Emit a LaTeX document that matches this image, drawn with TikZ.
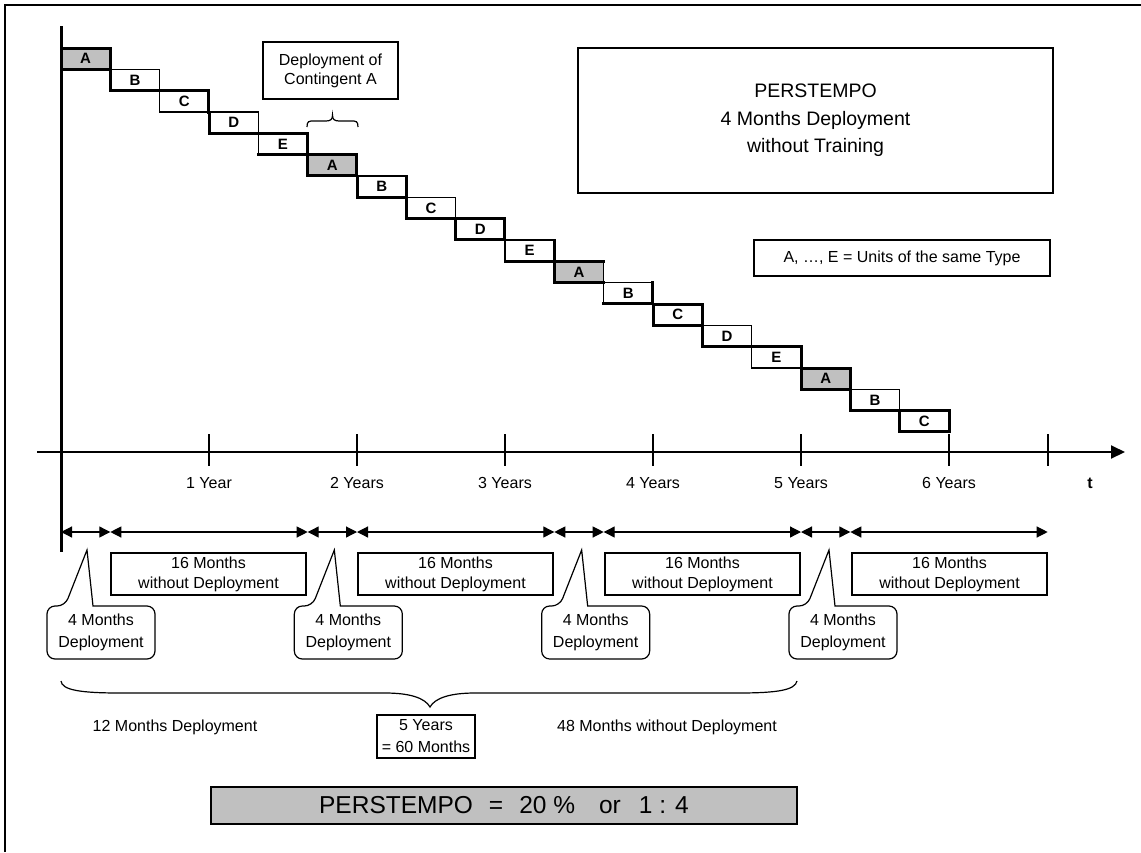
\documentclass[tikz,border=0pt]{standalone}
\usepackage{fontspec}
\setmainfont{Liberation Sans}
\usetikzlibrary{arrows.meta,calc}
\definecolor{boxgray}{RGB}{192,192,192}
\begin{document}
\begin{tikzpicture}[x=1pt,y=-1pt,
  every node/.style={font=\fontsize{16}{20}\selectfont, inner sep=0pt, outer sep=0pt},
  thinln/.style={line width=1.2pt},
  thk/.style={line width=3pt, line cap=rect},
  stepbox/.style={draw, line width=1.2pt, minimum width=49.33pt, minimum height=21.33pt, anchor=north west, font=\fontsize{15}{15}\selectfont\bfseries},
  txtbox/.style={draw, line width=1.2pt, align=center},
  bubble/.style={align=center, minimum width=108pt, minimum height=53pt, font=\fontsize{16}{22}\selectfont},
  dimarrow/.style={line width=1.2pt, {Triangle[length=11pt,width=11pt]}-{Triangle[length=11pt,width=11pt]}},
  ticklab/.style={font=\fontsize{16}{20}\selectfont},
]
\useasboundingbox (0,0) rectangle (1141,852);
% frame
\draw[line width=1.6pt] (5,852) -- (5,5) -- (1141,5);

% staircase boxes
\foreach \k/\lab/\fc in {0/A/boxgray,1/B/white,2/C/white,3/D/white,4/E/white,
  5/A/boxgray,6/B/white,7/C/white,8/D/white,9/E/white,
  10/A/boxgray,11/B/white,12/C/white,13/D/white,14/E/white,
  15/A/boxgray,16/B/white,17/C/white}{
  \node[stepbox, fill=\fc] (b\k) at ({61+49.333*\k},{48+21.333*\k}) {\lab};
}
% thick edges of the staircase
\foreach \k/\kt/\kl/\kr/\kb in {0/1/0/1/1,1/0/1/0/1,2/1/0/1/0,3/0/1/0/1,4/1/0/1/1,
  5/1/1/1/1,6/0/1/1/1,7/0/1/0/1,8/1/1/1/1,9/0/0/1/1,
  10/1/1/0/1,11/0/0/1/1,12/1/1/1/1,13/0/1/0/1,14/1/0/1/0,
  15/1/1/1/1,16/0/1/0/1,17/1/1/1/1}{
  \ifnum\kt=1 \draw[thk] (b\k.north west) -- (b\k.north east); \fi
  \ifnum\kl=1 \draw[thk] (b\k.north west) -- (b\k.south west); \fi
  \ifnum\kr=1 \draw[thk] (b\k.north east) -- (b\k.south east); \fi
  \ifnum\kb=1 \draw[thk] (b\k.south west) -- (b\k.south east); \fi
}

% vertical axis
\coordinate (vtop) at (61,26);
\coordinate (vbot) at (61,552);
\draw[line width=3pt] (vtop) -- (vbot);

% time axis
\coordinate (hstart) at (37,452);
\coordinate (hend) at (1125,452);
\draw[line width=2pt, -{Triangle[length=14pt,width=13pt]}] (hstart) -- (hend);
\foreach \i/\x in {1/209,2/357,3/505,4/653,5/801,6/949,7/1048}{
  \coordinate (tk\i a) at (\x,434);
  \coordinate (tk\i b) at (\x,466);
  \draw[line width=2.4pt] (tk\i a) -- (tk\i b);
}
\node[ticklab] (y1) at (209,483) {1 Year};
\node[ticklab] (y2) at (357,483) {2 Years};
\node[ticklab] (y3) at (505,483) {3 Years};
\node[ticklab] (y4) at (653,483) {4 Years};
\node[ticklab] (y5) at (801,483) {5 Years};
\node[ticklab] (y6) at (949,483) {6 Years};
\node[font=\fontsize{16}{20}\selectfont\bfseries] (tlab) at (1090,483) {t};

% dimension arrows
\foreach \i/\x in {0/61,1/110.3,2/307.7,3/357,4/554.3,5/603.7,6/801,7/850.3,8/1047.7}{
  \coordinate (m\i) at (\x,532);
}
\foreach \a/\b in {0/1,1/2,2/3,3/4,4/5,5/6,6/7,7/8}{
  \draw[dimarrow] (m\a) -- (m\b);
}

% 16 months boxes
\foreach \i/\cx in {1/208.5,2/455.5,3/702.5,4/949.5}{
  \node[txtbox, minimum width=195pt, minimum height=42pt] (sx\i) at (\cx,574) {16 Months\\without Deployment};
}

% callouts
\foreach \i in {0,1,2,3}{
  \node[bubble] (c\i) at ({101+247.33*\i},632.5) {4 Months\\Deployment};
  \coordinate (tip\i) at ({87+247.33*\i},550);
  \draw[thinln] ($(c\i.north west)+(46,0)$) [rounded corners=8pt] -- (c\i.north east) -- (c\i.south east) -- (c\i.south west) -- (c\i.north west) -- ($(c\i.north west)+(18,0)$) [sharp corners] -- (tip\i) -- cycle;
}

% contingent A
\node[txtbox, minimum width=135pt, minimum height=57pt, font=\fontsize{16}{19}\selectfont] (cont) at (330.5,70.5) {Deployment of\\Contingent A};
\coordinate (sbL) at (307,127);
\coordinate (sbR) at (358,127);
\coordinate (sbT) at (332.5,115);
\draw[thinln] (sbL) .. controls (307,121) and (309,121) .. (314,121) -- (326,121) .. controls (331,121) and (332.5,119) .. (sbT) .. controls (332.5,119) and (334,121) .. (339,121) -- (351,121) .. controls (356,121) and (358,121) .. (sbR);

% title box
\node[txtbox, line width=1.5pt, minimum width=475pt, minimum height=145pt, font=\fontsize{19.5}{27.5}\selectfont] (title) at (815.5,120.5) {PERSTEMPO\\4 Months Deployment\\without Training};
\node[txtbox, line width=1.5pt, minimum width=296pt, minimum height=36pt] (legend) at (902,258) {A, \ldots, E = Units of the same Type};

% big brace
\coordinate (brL) at (61,681);
\coordinate (brR) at (797,681);
\coordinate (brT) at (430,707);
\draw[thinln] (brL) .. controls (62,690) and (80,693) .. (120,693) -- (385,693) .. controls (410,693) and (425,698) .. (brT) .. controls (435,698) and (450,693) .. (475,693) -- (738,693) .. controls (778,693) and (795,690) .. (brR);

\node (lab12) at (175,727) {12 Months Deployment};
\node (lab48) at (667,727) {48 Months without Deployment};
\node[txtbox, minimum width=98pt, minimum height=43pt, font=\fontsize{16}{22}\selectfont] (five) at (426,736.5) {5 Years\\= 60 Months};

\node[txtbox, line width=1.6pt, fill=boxgray, minimum width=586pt, minimum height=37pt, font=\fontsize{24.5}{28}\selectfont] (result) at (504,805.5) {PERSTEMPO\hspace{16pt}=\hspace{16pt}20 \%\hspace{24pt}or\hspace{18pt}1 : 4};
\end{tikzpicture}
\end{document}
